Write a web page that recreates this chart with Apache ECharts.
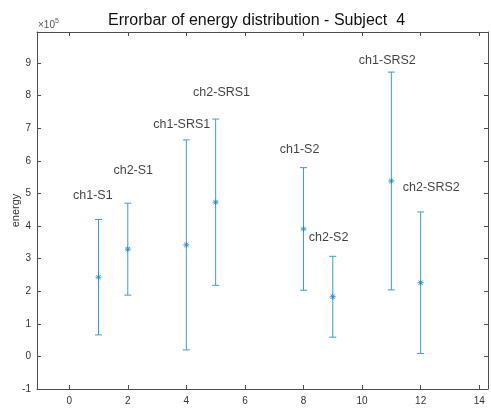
<!DOCTYPE html>
<html>
<head>
<meta charset="utf-8">
<script src="https://cdn.jsdelivr.net/npm/echarts@6/dist/echarts.min.js"></script>
<style>html,body{margin:0;padding:0;background:#fff;}#c{width:491px;height:408px;}</style>
</head>
<body>
<div id="c"></div>
<script>
// ---- data (values in units of 1e5) ----
var names = ['ch1-S1','ch2-S1','ch1-SRS1','ch2-SRS1','ch1-S2','ch2-S2','ch1-SRS2','ch2-SRS2'];
var xs    = [1, 2, 4, 5, 8, 9, 11, 12];
var means = [2.43, 3.29, 3.42, 4.73, 3.91, 1.83, 5.38, 2.26];
var errs  = [1.77, 1.41, 3.22, 2.55, 1.88, 1.24, 3.34, 2.17];
// text annotation anchors (data coordinates, like MATLAB text(x,y,...))
var labelX = [0.13, 1.51, 2.87, 4.23, 7.19, 8.18, 9.89, 11.39];
var labelY = [4.94, 5.69, 7.11, 8.09, 6.33, 3.65, 9.08, 5.17];
var xTicks = [0, 2, 4, 6, 8, 10, 12, 14];
var yTicks = [-1, 0, 1, 2, 3, 4, 5, 6, 7, 8, 9];

var FONT = '"Liberation Sans", Arial, Helvetica, sans-serif';
var AX = '#4d4d4d';
var BAR = '#3d9bd6';

var ebData = xs.map(function (x, i) { return [x, means[i] - errs[i], means[i], means[i] + errs[i]]; });
var lblData = labelX.map(function (x, i) { return { value: [x, labelY[i]], name: names[i] }; });

function renderEB(params, api) {
  var x = api.value(0);
  var lo = api.coord([x, api.value(1)]);
  var mid = api.coord([x, api.value(2)]);
  var hi = api.coord([x, api.value(3)]);
  var cw = 3.5, s = 3;
  var st = { stroke: BAR, lineWidth: 1 };
  var d = s * 0.72;
  var ms = { stroke: '#2a86c6', lineWidth: 0.9 };
  return {
    type: 'group',
    children: [
      { type: 'line', shape: { x1: lo[0], y1: lo[1], x2: hi[0], y2: hi[1] }, style: st },
      { type: 'line', shape: { x1: lo[0] - cw, y1: lo[1], x2: lo[0] + cw, y2: lo[1] }, style: st },
      { type: 'line', shape: { x1: hi[0] - cw, y1: hi[1], x2: hi[0] + cw, y2: hi[1] }, style: st },
      { type: 'line', shape: { x1: mid[0] - s, y1: mid[1], x2: mid[0] + s, y2: mid[1] }, style: ms },
      { type: 'line', shape: { x1: mid[0], y1: mid[1] - s, x2: mid[0], y2: mid[1] + s }, style: ms },
      { type: 'line', shape: { x1: mid[0] - d, y1: mid[1] - d, x2: mid[0] + d, y2: mid[1] + d }, style: ms },
      { type: 'line', shape: { x1: mid[0] - d, y1: mid[1] + d, x2: mid[0] + d, y2: mid[1] - d }, style: ms }
    ]
  };
}

var chart = echarts.init(document.getElementById('c'), null, { renderer: 'canvas' });
var lineStyle = { color: AX, width: 1 };
chart.setOption({
  animation: false,
  backgroundColor: '#fff',
  title: {
    text: 'Errorbar of energy distribution - Subject  4',
    left: 103, top: 8,
    textStyle: { fontFamily: FONT, fontSize: 16, fontWeight: 'normal', color: '#111' }
  },
  graphic: [{
    type: 'text', left: 38, top: 18,
    style: {
      text: '{a|×10}{b|5}',
      rich: {
        a: { fontFamily: FONT, fontSize: 10, fill: '#555', verticalAlign: 'bottom' },
        b: { fontFamily: FONT, fontSize: 7, fill: '#555', verticalAlign: 'top', padding: [0, 0, 5, 0] }
      }
    }
  }],
  grid: { left: 37, right: 3, top: 32, bottom: 19, containLabel: false, outerBoundsMode: 'none' },
  xAxis: [{
    type: 'value', min: -1.1, max: 14.3, position: 'bottom',
    axisLine: { show: true, onZero: false, lineStyle: lineStyle },
    axisTick: { show: true, inside: true, length: 4, customValues: xTicks, lineStyle: lineStyle },
    axisLabel: { customValues: xTicks, fontFamily: FONT, fontSize: 10, color: '#333', margin: 7 },
    splitLine: { show: false }
  }, {
    type: 'value', min: -1.1, max: 14.3, position: 'top',
    axisLine: { show: true, onZero: false, lineStyle: lineStyle },
    axisTick: { show: true, inside: true, length: 4, customValues: xTicks, lineStyle: lineStyle },
    axisLabel: { show: false },
    splitLine: { show: false }
  }],
  yAxis: [{
    type: 'value', min: -1, max: 9.95, position: 'left',
    name: 'energy', nameLocation: 'middle', nameGap: 16, nameRotate: 90, nameMoveOverlap: false,
    nameTextStyle: { fontFamily: FONT, fontSize: 11, color: '#333' },
    axisLine: { show: true, onZero: false, lineStyle: lineStyle },
    axisTick: { show: true, inside: true, length: 4, customValues: yTicks, lineStyle: lineStyle },
    axisLabel: { customValues: yTicks, fontFamily: FONT, fontSize: 10, color: '#333', margin: 6 },
    splitLine: { show: false }
  }, {
    type: 'value', min: -1, max: 9.95, position: 'right',
    axisLine: { show: true, onZero: false, lineStyle: lineStyle },
    axisTick: { show: true, inside: true, length: 4, customValues: yTicks, lineStyle: lineStyle },
    axisLabel: { show: false },
    splitLine: { show: false }
  }],
  series: [{
    type: 'custom',
    xAxisIndex: 0, yAxisIndex: 0,
    renderItem: renderEB,
    data: ebData,
    clip: false,
    z: 3
  }, {
    type: 'scatter',
    xAxisIndex: 0, yAxisIndex: 0,
    symbolSize: 0,
    data: lblData,
    label: {
      show: true, position: 'right', distance: 0,
      formatter: function (p) { return p.name; },
      fontFamily: FONT, fontSize: 12.5, color: '#111'
    },
    z: 4
  }]
});
</script>
</body>
</html>
